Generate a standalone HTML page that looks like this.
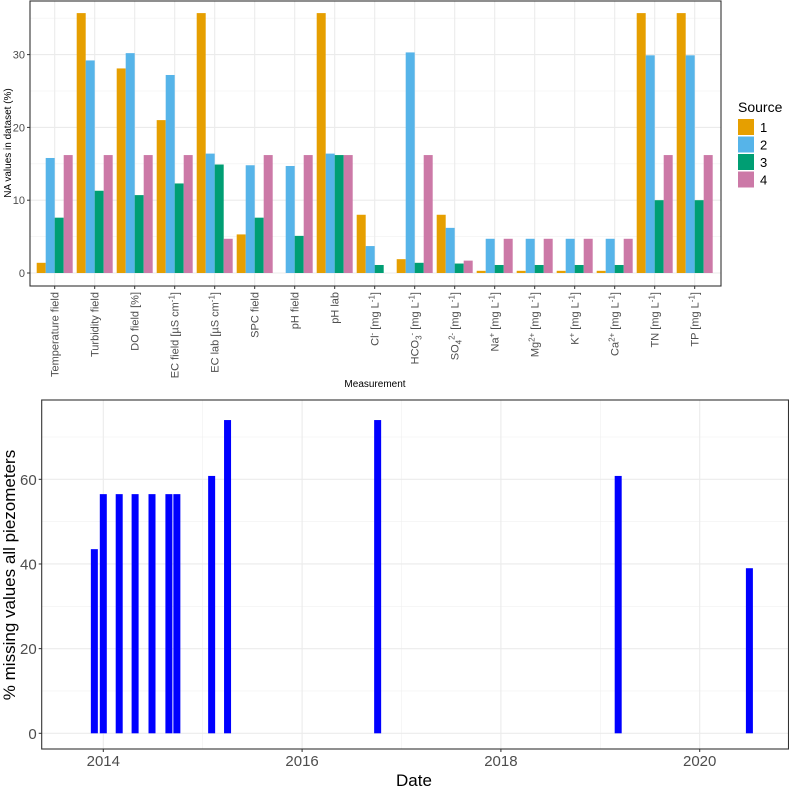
<!DOCTYPE html>
<html><head><meta charset="utf-8"><style>
html,body{margin:0;padding:0;background:#fff;}
svg{display:block;font-family:"Liberation Sans",Arial,sans-serif;}
</style></head><body>
<svg id="fig" width="789" height="787" viewBox="0 0 789 787" xmlns="http://www.w3.org/2000/svg">
<g id="top"></g>
<g id="bot"></g>
</svg>
<script>
const categories = ["Temperature field","Turbidity field","DO field [%]","EC field [µS cm-1]","EC lab [µS cm-1]","SPC field","pH field","pH lab","Cl- [mg L-1]","HCO3- [mg L-1]","SO42- [mg L-1]","Na+ [mg L-1]","Mg2+ [mg L-1]","K+ [mg L-1]","Ca2+ [mg L-1]","TN [mg L-1]","TP [mg L-1]"];
const source1 = [1.4,35.7,28.1,21.0,35.7,5.3,0,35.7,8.0,1.9,8.0,0.3,0.3,0.3,0.3,35.7,35.7];
const source2 = [15.8,29.2,30.2,27.2,16.4,14.8,14.7,16.4,3.7,30.3,6.2,4.7,4.7,4.7,4.7,29.9,29.9];
const source3 = [7.6,11.3,10.7,12.3,14.9,7.6,5.1,16.2,1.1,1.4,1.3,1.1,1.1,1.1,1.1,10.0,10.0];
const source4 = [16.2,16.2,16.2,16.2,4.7,16.2,16.2,16.2,0,16.2,1.7,4.7,4.7,4.7,4.7,16.2,16.2];
const sourceNames = ["1","2","3","4"];
const topYTicks = [0,10,20,30];
const dates = [2013.91,2014.0,2014.16,2014.32,2014.49,2014.66,2014.74,2015.09,2015.25,2016.76,2019.18,2020.50];
const missing = [43.5,56.5,56.5,56.5,56.5,56.5,56.5,60.8,74.0,74.0,60.8,39.0];
const botYTicks = [0,20,40,60];
const botXTicks = [2014,2016,2018,2020];

const NS="http://www.w3.org/2000/svg";
function mk(parent,tag,attrs,text){const e=document.createElementNS(NS,tag);for(const k in attrs)e.setAttribute(k,attrs[k]);if(text!==undefined)e.textContent=text;parent.appendChild(e);return e;}
const colors=["#E69F00","#56B4E9","#009E73","#CC79A7"];
const series=[source1,source2,source3,source4];

// ---------- top chart ----------
const T=document.getElementById('top');
const tL=30,tR=721,tT=1,tB=286;
const ty=v=>273-v*7.28;
const tx=i=>54.7+40*i;
mk(T,'rect',{x:tL,y:tT,width:tR-tL,height:tB-tT,fill:'#fff'});
for(let v=5;v<=35;v+=10){const l=mk(T,'line',{x1:tL,x2:tR,y1:ty(v),y2:ty(v),stroke:'#f0f0f0','stroke-width':0.6});}
topYTicks.forEach(v=>{mk(T,'line',{x1:tL,x2:tR,y1:ty(v),y2:ty(v),stroke:'#ebebeb','stroke-width':1.1});});
categories.forEach((c,i)=>{mk(T,'line',{x1:tx(i),x2:tx(i),y1:tT,y2:tB,stroke:'#ebebeb','stroke-width':1.1});});
series.forEach((s,k)=>{s.forEach((v,i)=>{
  const x=tx(i)-18+9*k;
  const r=mk(T,'rect',{x:x,y:ty(v),width:9,height:Math.max(0,ty(0)-ty(v)),fill:colors[k]});
  
  
});});
mk(T,'rect',{x:tL,y:tT,width:tR-tL,height:tB-tT,fill:'none',stroke:'#333','stroke-width':1.1});
topYTicks.forEach(v=>{
  mk(T,'line',{x1:tL-3,x2:tL,y1:ty(v),y2:ty(v),stroke:'#333'});
  const t=mk(T,'text',{x:tL-5,y:ty(v)+4,'text-anchor':'end','font-size':11,fill:'#4d4d4d'},String(v));
  
  
});
function parseLabel(c){
  // returns segments: [text,type]
  const m=c.match(/^(.*?)\s\[(.*)\]$/);
  let base=c,unit=null;
  if(m){base=m[1];unit=m[2];}
  const segs=[];
  const ions={"Cl-":[["Cl","n"],["-","sup"]],"HCO3-":[["HCO","n"],["3","sub"],["-","sup"]],"SO42-":[["SO","n"],["4","sub"],["2-","sup"]],"Na+":[["Na","n"],["+","sup"]],"Mg2+":[["Mg","n"],["2+","sup"]],"K+":[["K","n"],["+","sup"]],"Ca2+":[["Ca","n"],["2+","sup"]]};
  if(ions[base])segs.push(...ions[base]);else segs.push([base,"n"]);
  if(unit){
    if(unit.endsWith("-1")){segs.push([" ["+unit.slice(0,-2),"n"]);segs.push(["-1","sup"]);segs.push(["]","n"]);}
    else segs.push([" ["+unit+"]","n"]);
  }
  return segs;
}
categories.forEach((c,i)=>{
  mk(T,'line',{x1:tx(i),x2:tx(i),y1:tB,y2:tB+3,stroke:'#333'});
  const t=mk(T,'text',{transform:`translate(${tx(i)+4},292) rotate(-90)`,'text-anchor':'end','font-size':11,fill:'#4d4d4d'});
  
  
  let shift=0;
  parseLabel(c).forEach(([s,ty2])=>{
    const target=ty2==='sup'?-4:ty2==='sub'?3:0;
    const sp=mk(t,'tspan',{dy:target-shift},s);
    if(ty2!=='n')sp.setAttribute('font-size',8);
    shift=target;
  });
});
const yt=mk(T,'text',{transform:'translate(11,143) rotate(-90)','text-anchor':'middle','font-size':10,fill:'#000'},'NA values in dataset (%)');


const xt=mk(T,'text',{x:375,y:387,'text-anchor':'middle','font-size':10,fill:'#000'},'Measurement');


const lt=mk(T,'text',{x:738,y:112,'font-size':14,fill:'#000'},'Source');


sourceNames.forEach((n,k)=>{
  const y=119+17.5*k;
  const r=mk(T,'rect',{x:738,y:y,width:16,height:16,fill:colors[k]});
  
  
  const t=mk(T,'text',{x:760,y:y+13,'font-size':13,fill:'#000'},n);
  
  
});

// ---------- bottom chart ----------
const B=document.getElementById('bot');
const bL=41.7,bR=788.5,bT=400,bB=749;
const by=v=>733.3-v*4.233;
const bx=d=>103.3+(d-2014)*99.4;
for(let v=10;v<=70;v+=20)mk(B,'line',{x1:bL,x2:bR,y1:by(v),y2:by(v),stroke:'#f0f0f0','stroke-width':0.6});
[2015,2017,2019].forEach(d=>mk(B,'line',{x1:bx(d),x2:bx(d),y1:bT,y2:bB,stroke:'#f0f0f0','stroke-width':0.6}));
[2013].forEach(d=>{});
botYTicks.forEach(v=>mk(B,'line',{x1:bL,x2:bR,y1:by(v),y2:by(v),stroke:'#ebebeb','stroke-width':1.1}));
botXTicks.forEach(d=>mk(B,'line',{x1:bx(d),x2:bx(d),y1:bT,y2:bB,stroke:'#ebebeb','stroke-width':1.1}));
dates.forEach((d,i)=>{
  const r=mk(B,'rect',{x:bx(d)-3.5,y:by(missing[i]),width:7,height:by(0)-by(missing[i]),fill:'#0000ff'});
  
  
});
mk(B,'rect',{x:bL,y:bT,width:bR-bL,height:bB-bT,fill:'none',stroke:'#333','stroke-width':1.1});
botYTicks.forEach(v=>{
  mk(B,'line',{x1:bL-3,x2:bL,y1:by(v),y2:by(v),stroke:'#333'});
  const t=mk(B,'text',{x:bL-5,y:by(v)+5.5,'text-anchor':'end','font-size':15,fill:'#4d4d4d'},String(v));
  
  
});
botXTicks.forEach(d=>{
  mk(B,'line',{x1:bx(d),x2:bx(d),y1:bB,y2:bB+3,stroke:'#333'});
  const t=mk(B,'text',{x:bx(d),y:766,'text-anchor':'middle','font-size':15,fill:'#4d4d4d'},String(d));
  
  
});
const byt=mk(B,'text',{transform:'translate(15,575) rotate(-90)','text-anchor':'middle','font-size':17,fill:'#000'},'% missing values all piezometers');


const bxt=mk(B,'text',{x:414,y:786,'text-anchor':'middle','font-size':17,fill:'#000'},'Date');


</script>
</body></html>
